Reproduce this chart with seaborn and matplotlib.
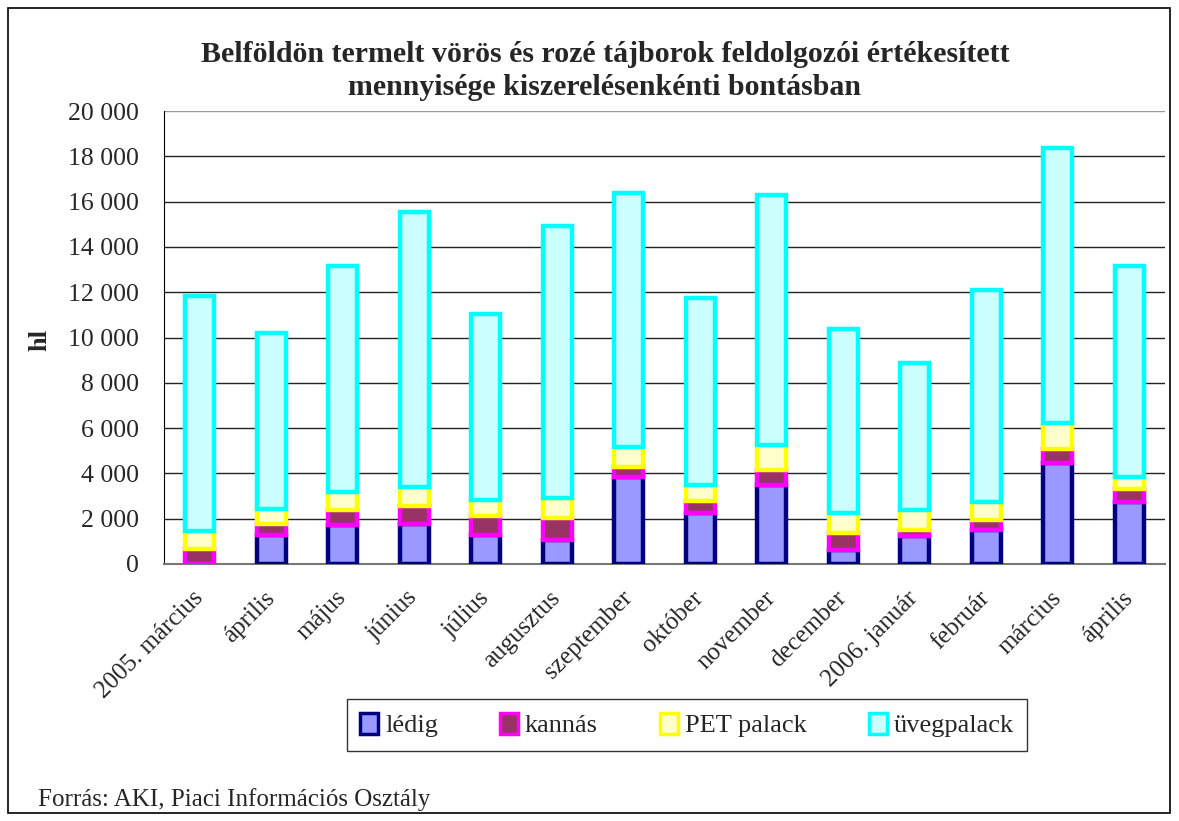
import numpy as np
import matplotlib
matplotlib.use("Agg")
import matplotlib.pyplot as plt
import matplotlib.patches as mpatches
import seaborn as sns

months = ["2005. március", "április", "május", "június", "július", "augusztus",
          "szeptember", "október", "november", "december", "2006. január",
          "február", "március", "április"]
ledig = [0, 1280, 1720, 1770, 1280, 1060, 3830, 2270, 3490, 620, 1240, 1500, 4470, 2750]
kannas = [660, 490, 660, 790, 850, 960, 470, 510, 660, 740, 260, 440, 590, 550]
pet_palack = [810, 650, 790, 830, 700, 910, 880, 710, 1100, 880, 880, 810, 1180, 530]
uvegpalack = [10380, 7780, 9980, 12140, 8190, 12000, 11200, 8270, 11050, 8140, 6490, 9330, 12110, 9320]
series_names = ["lédig", "kannás", "PET palack", "üvegpalack"]
y_ticks = list(range(0, 20001, 2000))

faces = ["#9999FF", "#993366", "#FFFFCC", "#CCFFFF"]
edges = ["#000080", "#FF00FF", "#FFFF00", "#00FFFF"]

sns.set_style("white")
plt.rcParams["font.family"] = ["Liberation Serif", "DejaVu Serif"]

fig = plt.figure(figsize=(11.79, 8.21), dpi=100)
ax = fig.add_axes([164 / 1179, 1 - 564 / 821, (1165 - 164) / 1179, (564 - 111) / 821])

pos = list(range(len(months)))
bottom = np.zeros(len(months))
for vals, fc, ec in zip([ledig, kannas, pet_palack, uvegpalack], faces, edges):
    sns.barplot(x=pos, y=vals, bottom=bottom, color=fc, edgecolor=ec, linewidth=3.2,
                width=0.41, saturation=1, errorbar=None, ax=ax, zorder=3)
    bottom += np.array(vals)

ax.set_xlim(-0.5, len(months) - 0.5)
ax.set_ylim(0, 20000)
ax.set_yticks(y_ticks, [f"{v:,}".replace(",", " ") for v in y_ticks], fontsize=18.5)
ax.set_xticks(pos, months, fontsize=18, rotation=45, ha="right", va="center",
              rotation_mode="anchor")
ax.set_xticks(np.arange(-0.5, len(months), 1), minor=True)
ax.tick_params(axis="x", which="major", length=0, pad=22)
ax.tick_params(axis="x", which="minor", length=8, direction="out", color="#555555")
ax.tick_params(axis="y", length=8, direction="out", color="#333333", pad=10)
ax.set_xlabel("")
ax.set_ylabel("")
ax.grid(axis="y", color="#222222", linewidth=1, zorder=0)
ax.set_axisbelow(True)
ax.get_ygridlines()[-1].set_color("#999999")
for s in ["top", "right"]:
    ax.spines[s].set_visible(False)
ax.spines["left"].set_color("black")
ax.spines["bottom"].set_color("#777777")
ax.spines["bottom"].set_linewidth(1.5)

fig.text(605 / 1179, 1 - 71 / 821,
         "Belföldön termelt vörös és rozé tájborok feldolgozói értékesített\n"
         "mennyisége kiszerelésenkénti bontásban",
         ha="center", va="center", fontsize=21.5, fontweight="bold", linespacing=1.3)
fig.text(40 / 1179, 1 - 340 / 821, "hl", rotation=90, ha="center", va="center",
         fontsize=19, fontweight="bold")
fig.text(38 / 1179, 1 - 800 / 821, "Forrás: AKI, Piaci Információs Osztály",
         ha="left", va="center", fontsize=18)

handles = [mpatches.Patch(facecolor=fc, edgecolor=ec, linewidth=2.5, label=n)
           for n, fc, ec in zip(series_names, faces, edges)]
leg = fig.legend(handles=handles, loc="center", bbox_to_anchor=(687 / 1179, 1 - 725 / 821),
                 ncol=4, fontsize=19, frameon=True, fancybox=False, edgecolor="black",
                 handlelength=0.7, handleheight=0.85, handletextpad=0.25, columnspacing=2.35,
                 borderpad=0.5)
leg.get_frame().set_linewidth(1)

fig.patches.append(mpatches.Rectangle((8 / 1179, 8 / 821), 1162 / 1179, 805 / 821,
                                      transform=fig.transFigure, fill=False,
                                      edgecolor="black", linewidth=1.2))

fig.savefig("out.png", dpi=100)
